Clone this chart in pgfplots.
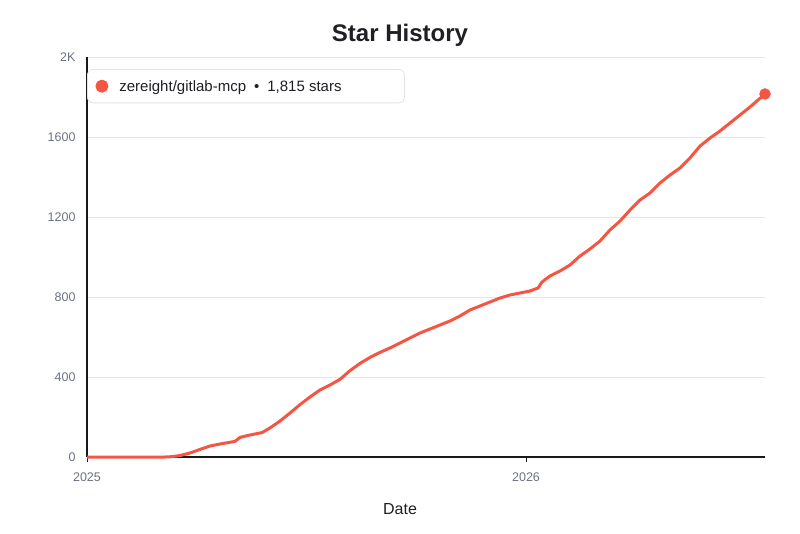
\documentclass[border=0pt]{standalone}
\usepackage{pgfplots}
\pgfplotsset{compat=1.18}
\usepackage{fontspec}
\setmainfont{Liberation Sans}
\definecolor{starline}{RGB}{245,85,67}
\definecolor{gridc}{RGB}{229,231,235}
\definecolor{tickc}{RGB}{107,114,128}
\definecolor{titlec}{RGB}{31,31,36}
\definecolor{legborder}{RGB}{225,228,236}
\begin{document}
\begin{tikzpicture}[x=1pt,y=1pt]
\path[use as bounding box] (0,0) rectangle (800,533);
\begin{axis}[
  at={(87pt,76pt)}, anchor=south west,
  width=678pt, height=400pt, scale only axis,
  xmin=0, xmax=563.7, ymin=0, ymax=2000,
  axis lines*=left,
  axis line style={line width=1.6pt, color=black!90},
  xtick={0,365}, xticklabels={2025,2026},
  ytick={0,400,800,1200,1600,2000},
  yticklabels={0,400,800,1200,1600,2K},
  ymajorgrids, grid style={gridc, line width=0.8pt},
  xtick style={line width=1pt, color=black!90},
  ytick style={draw=none},
  major tick length=5pt,
  tick align=outside,
  tick label style={font=\fontsize{12.5}{14}\selectfont, color=tickc},
  /pgf/number format/assume math mode=true,
  xticklabel style={yshift=-7pt},
  yticklabel style={xshift=-3pt},
  xlabel={Date},
  xlabel style={font=\fontsize{16}{18}\selectfont, color=titlec, at={(0.5,0)}, anchor=center, yshift=-52pt, xshift=-26pt},
  title={\textbf{Star History}},
  title style={font=\fontsize{24}{28}\selectfont, color=titlec, at={(0.5,1)}, anchor=center, yshift=16pt, xshift=-26pt},
  legend style={at={(0.0,0.97)}, anchor=north west, draw=legborder, line width=0.8pt, rounded corners=6pt,
    font=\fontsize{15}{17}\selectfont, text=titlec, inner xsep=8pt, inner ysep=8pt, fill=white},
  legend cell align=left,
  legend image code/.code={\fill[starline] (0.3em+3pt,0) circle (5pt);},
  clip=false,
]
\addplot[color=starline, line width=3pt, line join=round] coordinates {
(0,0) (64.8,0) (69,1) (77.3,7) (85.6,20) (94,38) (102.3,55) (110.6,65) (123,78)
(127.2,98) (135.5,110) (145.5,122) (152.1,145) (160.5,180) (168.8,220) (177.1,262)
(185.4,300) (193.7,335) (202,360) (210.3,388) (218.7,432) (227,468) (235.3,498)
(243.6,523) (251.9,545) (260.2,570) (268.5,595) (276.9,620) (285.2,640) (293.5,660)
(301.8,680) (310.1,705) (318.4,735) (326.7,755) (335.1,775) (343.4,795) (351.7,810)
(360,820) (368.3,830) (375,845) (378.3,875) (384.9,905) (393.3,930) (401.6,960)
(409.9,1005) (418.2,1040) (426.5,1080) (434.8,1135) (443.2,1180) (451.5,1235)
(459.8,1285) (468.1,1320) (476.4,1370) (484.7,1410) (493,1445) (501.3,1495)
(509.7,1555) (518,1595) (526.3,1630) (534.6,1670) (542.9,1710) (551.2,1750) (563.7,1815)
};
\addlegendentry{\hspace*{9pt}zereight/gitlab-mcp\hspace*{8pt}\textbullet\hspace*{8pt}1,815 stars\hspace*{53pt}\rule{0pt}{12pt}}
\addplot[only marks, mark=*, mark size=5.5pt, color=starline, forget plot] coordinates {(563.7,1815)};
\end{axis}
\end{tikzpicture}
\end{document}
